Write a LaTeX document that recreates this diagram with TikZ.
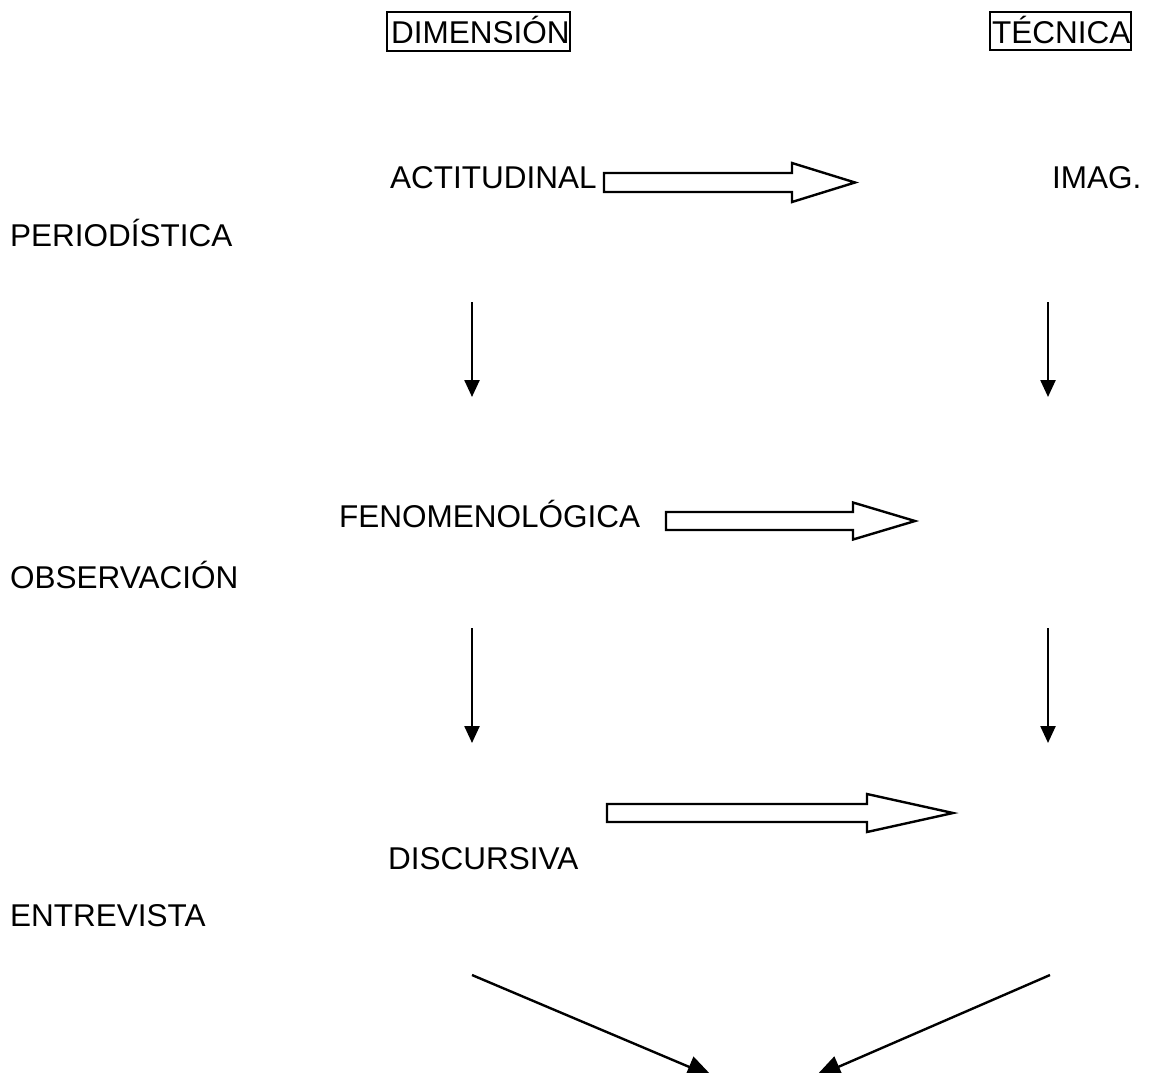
\documentclass[tikz,border=0pt]{standalone}
\usepackage{fontspec}
\setmainfont{Liberation Sans}
\usetikzlibrary{arrows.meta}
\tikzset{
  lbl/.style={anchor=base west, inner sep=0pt, font=\fontsize{31.5}{37}\selectfont},
  thin/.style={line width=2.4pt, -{Triangle[width=15pt,length=17pt]}},
  diag/.style={line width=2.4pt, -{Triangle[width=22pt,length=26pt]}},
  blk/.style={line width=2.4pt, fill=white, line join=miter},
  hbox/.style={line width=2.4pt}
}
\newcommand{\blkarrow}[7]{% name, x0, xh, xt, yc, hs, hh
  \draw[blk] (#2,#5-#6) -- (#3,#5-#6) -- (#3,#5-#7) -- (#4,#5) -- (#3,#5+#7) -- (#3,#5+#6) -- (#2,#5+#6) -- cycle;
  \coordinate (#1) at (#4,#5);
}
\begin{document}
\begin{tikzpicture}[x=1pt,y=-1pt]
\useasboundingbox (0,0) rectangle (1153,1072);
% header
\node[lbl] (dim) at (391,43) {DIMENSIÓN};
\node[lbl] (tec) at (992,43) {TÉCNICA};
\draw[hbox] (387,12) rectangle (570,51);
\draw[hbox] (990,12) rectangle (1131,50);
% labels
\node[lbl] (act) at (390,188) {ACTITUDINAL};
\node[lbl] (img) at (1052,188) {IMAG.};
\node[lbl] (per) at (10,246) {PERIODÍSTICA};
\node[lbl] (fen) at (339,527) {FENOMENOLÓGICA};
\node[lbl] (obs) at (10,588) {OBSERVACIÓN};
\node[lbl] (dis) at (388,869) {DISCURSIVA};
\node[lbl] (ent) at (10,926) {ENTREVISTA};
% block arrows
\blkarrow{b1}{604}{792}{855}{182.5}{9.5}{19.5}
\blkarrow{b2}{666}{853}{915}{521}{9}{18.5}
\blkarrow{b3}{607}{867}{953}{813}{9}{19}
% thin arrows
\coordinate (a1s) at (472,302); \coordinate (a1e) at (472,397);
\coordinate (a2s) at (1048,302); \coordinate (a2e) at (1048,397);
\coordinate (a3s) at (472,628); \coordinate (a3e) at (472,743);
\coordinate (a4s) at (1048,628); \coordinate (a4e) at (1048,743);
\draw[thin] (a1s) -- (a1e);
\draw[thin] (a2s) -- (a2e);
\draw[thin] (a3s) -- (a3e);
\draw[thin] (a4s) -- (a4e);
% diagonal arrows
\coordinate (d1s) at (472,975); \coordinate (d1e) at (713,1077);
\coordinate (d2s) at (1050,975); \coordinate (d2e) at (815,1077);
\draw[diag] (d1s) -- (d1e);
\draw[diag] (d2s) -- (d2e);
\end{tikzpicture}
\end{document}
